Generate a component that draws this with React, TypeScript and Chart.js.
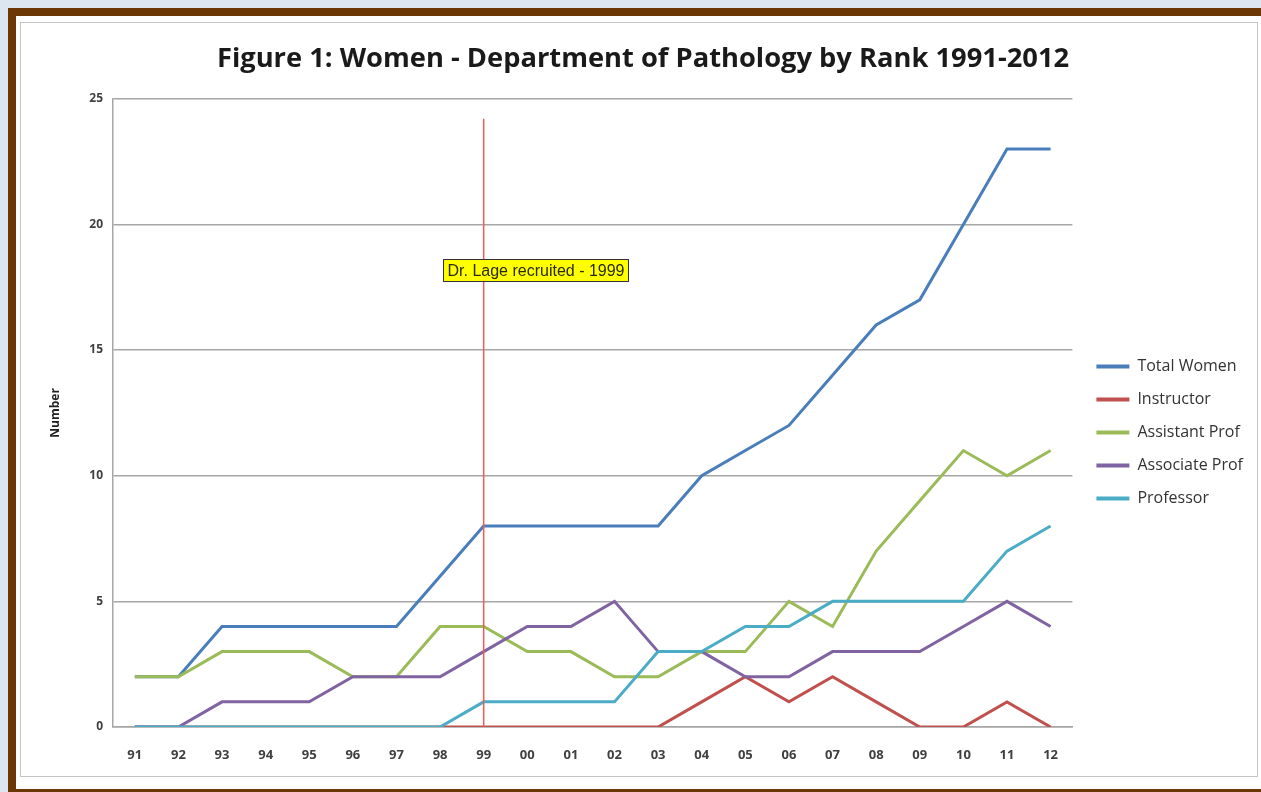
import React, { useEffect, useRef } from "react";
import { Chart, registerables } from "chart.js";

Chart.register(...registerables);

const titleText = "Figure 1: Women - Department of Pathology by Rank 1991-2012";
const yAxisTitle = "Number";
const years = ["91", "92", "93", "94", "95", "96", "97", "98", "99", "00", "01", "02", "03", "04", "05", "06", "07", "08", "09", "10", "11", "12"];
const totalWomen = [2, 2, 4, 4, 4, 4, 4, 6, 8, 8, 8, 8, 8, 10, 11, 12, 14, 16, 17, 20, 23, 23];
const instructor = [0, 0, 0, 0, 0, 0, 0, 0, 0, 0, 0, 0, 0, 1, 2, 1, 2, 1, 0, 0, 1, 0];
const assistantProf = [2, 2, 3, 3, 3, 2, 2, 4, 4, 3, 3, 2, 2, 3, 3, 5, 4, 7, 9, 11, 10, 11];
const associateProf = [0, 0, 1, 1, 1, 2, 2, 2, 3, 4, 4, 5, 3, 3, 2, 2, 3, 3, 3, 4, 5, 4];
const professor = [0, 0, 0, 0, 0, 0, 0, 0, 1, 1, 1, 1, 3, 3, 4, 4, 5, 5, 5, 5, 7, 8];
const seriesNames = ["Total Women", "Instructor", "Assistant Prof", "Associate Prof", "Professor"];
const seriesColors = ["#4a7ebb", "#c0504d", "#9bbb59", "#8064a2", "#4bacc6"];
const yTicks = [0, 5, 10, 15, 20, 25];

const markerYear = "99";
const markerTopValue = 24.2;
const annotationText = "Dr. Lage recruited - 1999";
const annotationValue = 18.2;

const LEGEND_DX = 7;
const LEGEND_DY = 35;

const markerPlugin = {
  id: "markerPlugin",
  afterLayout(chart: any) {
    const l = chart.legend;
    if (l) {
      l.left += LEGEND_DX;
      l.right += LEGEND_DX;
      l.top += LEGEND_DY;
      l.bottom += LEGEND_DY;
    }
  },
  afterDatasetsDraw(chart: any) {
    const { ctx, scales } = chart;
    const x = scales.x;
    const y = scales.y;
    const px = x.getPixelForValue(years.indexOf(markerYear));
    ctx.save();
    ctx.strokeStyle = "#f25a5a";
    ctx.lineWidth = 1.5;
    ctx.beginPath();
    ctx.moveTo(px, y.getPixelForValue(markerTopValue));
    ctx.lineTo(px, y.getPixelForValue(0));
    ctx.stroke();

    ctx.font = '16px "Liberation Sans"';
    const tw = ctx.measureText(annotationText).width;
    const bw = tw + 8;
    const bh = 22;
    const bx = Math.round(px - 41) + 0.5;
    const by = Math.round(y.getPixelForValue(annotationValue) - bh / 2) + 0.5;
    ctx.fillStyle = "#ffff00";
    ctx.fillRect(bx, by, bw, bh);
    ctx.strokeStyle = "#333333";
    ctx.lineWidth = 1;
    ctx.strokeRect(bx, by, bw, bh);
    ctx.fillStyle = "#2a2a10";
    ctx.textBaseline = "middle";
    ctx.textAlign = "left";
    ctx.fillText(annotationText, bx + 4, by + bh / 2 + 1);
    ctx.restore();
  },
};

export default function App() {
  const ref = useRef<HTMLCanvasElement | null>(null);

  useEffect(() => {
    if (!ref.current) return;
    const seriesData = [totalWomen, instructor, assistantProf, associateProf, professor];
    const chart = new Chart(ref.current, {
      type: "line",
      data: {
        labels: years,
        datasets: seriesNames.map((name, i) => ({
          label: name,
          data: seriesData[i],
          borderColor: seriesColors[i],
          backgroundColor: seriesColors[i],
          borderWidth: 3,
          pointRadius: 0,
          tension: 0,
          fill: false,
          order: seriesNames.length - i,
        })),
      },
      options: {
        responsive: false,
        animation: false,
        layout: { padding: { top: 10, left: 20, right: 12, bottom: 14 } },
        plugins: {
          tooltip: { enabled: false },
          title: {
            display: true,
            text: titleText,
            color: "#1a1a1a",
            font: { family: "Open Sans", size: 27.3, weight: "bold" },
            padding: { top: 11, bottom: 23 },
          },
          legend: {
            position: "right",
            align: "center",
            labels: {
              boxWidth: 33,
              boxHeight: 4,
              padding: 17,
              color: "#333333",
              font: { family: "Open Sans", size: 16 },
              sort: (a: any, b: any) => a.datasetIndex - b.datasetIndex,
              generateLabels: () =>
                seriesNames.map((name, i) => ({
                  text: name,
                  fillStyle: seriesColors[i],
                  strokeStyle: seriesColors[i],
                  lineWidth: 0,
                  datasetIndex: i,
                  hidden: false,
                  fontColor: "#333333",
                })),
            },
          },
        },
        scales: {
          x: {
            offset: true,
            grid: { display: false, drawTicks: false },
            border: { display: true, color: "#a6a6a6", width: 1.5 },
            ticks: {
              padding: 20,
              color: "#404040",
              font: { family: "Open Sans", size: 13, weight: "bold" },
              maxRotation: 0,
              autoSkip: false,
            },
            afterFit: (s: any) => {
              s.height = 36;
            },
          },
          y: {
            min: 0,
            max: 25,
            afterBuildTicks: (s: any) => {
              s.ticks = yTicks.map((v) => ({ value: v }));
            },
            grid: { color: "#a6a6a6", lineWidth: 1.5, drawTicks: false },
            border: { display: true, color: "#a6a6a6", width: 1.5 },
            ticks: {
              padding: 10,
              color: "#404040",
              font: { family: "Open Sans", size: 12, weight: "bold" },
            },
            title: {
              display: true,
              text: yAxisTitle,
              color: "#222222",
              font: { family: "Open Sans", size: 12, weight: "bold" },
              padding: { top: 8, bottom: 0 },
            },
            afterFit: (s: any) => {
              s.width = 73;
            },
          },
        },
      },
      plugins: [markerPlugin],
    });
    return () => chart.destroy();
  }, []);

  return (
    <div style={{ position: "fixed", left: 0, top: 0, width: 1261, height: 792, overflow: "hidden", background: "#dce6f1" }}>
      <div style={{ position: "absolute", left: 8, top: 8, width: 1280, height: 773, border: "8px solid #6b3704", background: "#ffffff" }} />
      <div style={{ position: "absolute", left: 20, top: 22, width: 1236, height: 753, border: "1.5px solid #c4c4c4", background: "#ffffff" }} />
      <canvas ref={ref} width={1238} height={755} style={{ position: "absolute", left: 20, top: 22, width: 1238, height: 755 }} />
    </div>
  );
}
